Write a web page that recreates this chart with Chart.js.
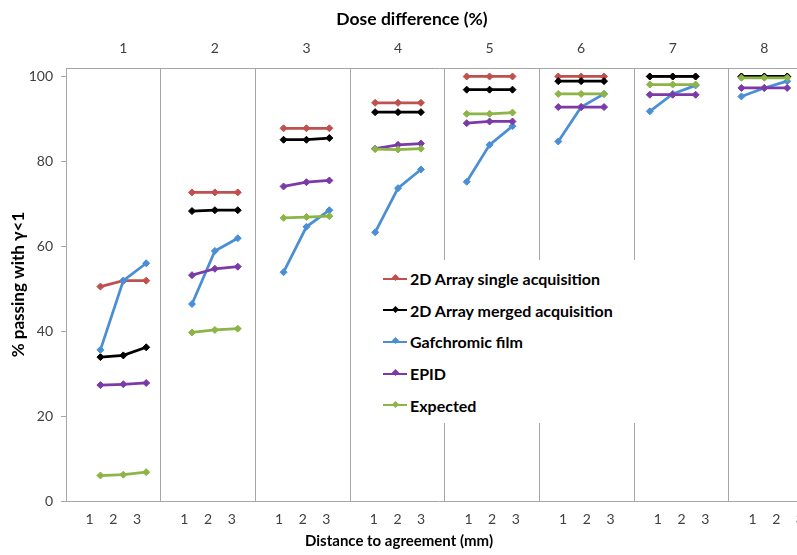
<!DOCTYPE html>
<html>
<head>
<meta charset="utf-8">
<script src="https://cdn.jsdelivr.net/npm/chart.js@4.4.1/dist/chart.umd.min.js"></script>
<style>
  body { margin: 0; background: #fff; }
  #wrap { position: relative; width: 797px; height: 555px; overflow: hidden; }
  #legend {
    position: absolute; left: 365px; top: 260px; width: 272px; height: 163px;
    background: #fff; padding-top: 3px; box-sizing: border-box;
    font-family: Lato, sans-serif; font-weight: bold; font-size: 16px; color: #000;
  }
  .item { height: 31.6px; display: flex; align-items: center; padding-left: 18px; }
  .swatch { position: relative; width: 24px; height: 2px; margin-right: 3px; }
  .swatch i { position: absolute; left: 9.5px; top: -2.5px; width: 5px; height: 5px; transform: rotate(45deg); background: inherit; }
</style>
</head>
<body>
<div id="wrap">
  <!-- the original figure is cropped on the right, so the canvas runs past the window edge -->
  <canvas id="chart" width="812" height="555"></canvas>
  <div id="legend"></div>
</div>
<script>
// Dose difference (%) groups and distance to agreement (mm) inside each group
const doseLevels = [1, 2, 3, 4, 5, 6, 7, 8];
const distances = [1, 2, 3];
const yTicks = [0, 20, 40, 60, 80, 100];

const seriesNames = [
  "2D Array single acquisition",
  "2D Array merged acquisition",
  "Gafchromic film",
  "EPID",
  "Expected"
];
const seriesColors = ["#c0504d", "#000000", "#4a8fd5", "#7b3aa8", "#8db447"];

// one row per dose level, three values per row (DTA 1, 2, 3 mm)
const singleAcq = [
  50.5, 51.9, 51.9,
  72.7, 72.7, 72.7,
  87.8, 87.8, 87.8,
  93.8, 93.8, 93.8,
  100, 100, 100,
  100, 100, 100,
  100, 100, 100,
  100, 100, 100
];
const mergedAcq = [
  33.9, 34.3, 36.2,
  68.3, 68.5, 68.5,
  85.1, 85.1, 85.5,
  91.6, 91.6, 91.6,
  96.9, 96.9, 96.9,
  98.9, 98.9, 98.9,
  100, 100, 100,
  100, 100, 100
];
const film = [
  35.6, 51.9, 56.0,
  46.4, 58.9, 61.9,
  53.9, 64.6, 68.5,
  63.3, 73.7, 78.1,
  75.2, 83.9, 88.3,
  84.7, 92.8, 95.9,
  91.8, 95.9, 97.9,
  95.3, 97.3, 98.9
];
const epid = [
  27.3, 27.5, 27.8,
  53.2, 54.7, 55.2,
  74.1, 75.1, 75.5,
  83.0, 83.9, 84.2,
  89.0, 89.4, 89.4,
  92.8, 92.8, 92.8,
  95.7, 95.7, 95.7,
  97.3, 97.3, 97.3
];
const expected = [
  6.0, 6.2, 6.8,
  39.7, 40.3, 40.6,
  66.7, 66.9, 67.1,
  82.9, 82.8, 83.0,
  91.2, 91.2, 91.5,
  95.9, 95.9, 95.9,
  98.1, 98.1, 98.1,
  99.7, 99.7, 99.7
];
const seriesValues = [singleAcq, mergedAcq, film, epid, expected];

const gray = "#a6a6a6";
const tickColor = "#404040";
const font = "Lato, sans-serif";

// each dose group sits at x = dose, the three DTA points 0.25 apart, null breaks the line between groups
function toPoints(values) {
  const pts = [];
  doseLevels.forEach((dose, g) => {
    distances.forEach((d, j) => pts.push({ x: dose + (d - 2) * 0.25, y: values[g * distances.length + j] }));
    pts.push({ x: dose + 0.5, y: null });
  });
  return pts;
}

const datasets = seriesNames.map((name, i) => ({
  label: name,
  data: toPoints(seriesValues[i]),
  borderColor: seriesColors[i],
  backgroundColor: seriesColors[i],
  borderWidth: 2.75,
  pointStyle: "rectRot",
  pointRadius: 3.5,
  pointBorderWidth: 1,
  spanGaps: false,
  xAxisID: "x",
  yAxisID: "y",
  order: seriesNames.length - i
}));

// bottom axis: 4 slots per dose group, separators on the group edges
const slotsPerGroup = distances.length + 1;

const axisTitles = {
  id: "axisTitles",
  afterDraw(chart) {
    const ctx = chart.ctx;
    const a = chart.chartArea;
    ctx.save();
    ctx.fillStyle = "#000";
    ctx.textAlign = "center";
    ctx.textBaseline = "middle";
    ctx.font = "bold 17.5px " + font;
    ctx.fillText("Dose difference (%)", a.left + 346, 19);
    ctx.font = "bold 15px " + font;
    ctx.fillText("Distance to agreement (mm)", a.left + 333, 541);
    ctx.restore();
  }
};

const noSidePadding = s => { s.paddingLeft = 0; s.paddingRight = 0; };

const chart = new Chart(document.getElementById("chart"), {
  type: "line",
  data: { datasets },
  options: {
    responsive: false,
    animation: false,
    layout: { padding: 0, autoPadding: false },
    plugins: { legend: { display: false }, tooltip: { enabled: false } },
    scales: {
      x: {
        type: "linear",
        position: "top",
        min: 0.374,
        max: 8.521,
        afterBuildTicks: s => { s.ticks = doseLevels.map(v => ({ value: v })); },
        afterFit: s => { s.height = 68; noSidePadding(s); },
        ticks: { color: tickColor, font: { family: font, size: 14 }, padding: 3, maxRotation: 0, autoSkip: false },
        grid: { display: false },
        border: { display: true, color: gray, width: 1 }
      },
      xb: {
        type: "linear",
        position: "bottom",
        min: 0,
        max: 31.51,
        afterBuildTicks: s => {
          const t = [];
          doseLevels.forEach((dose, g) => {
            t.push({ value: g * slotsPerGroup });
            distances.forEach(d => t.push({ value: g * slotsPerGroup + d }));
          });
          s.ticks = t;
        },
        afterFit: s => { s.height = 54; noSidePadding(s); },
        ticks: {
          color: tickColor, font: { family: font, size: 14 }, padding: 10, maxRotation: 0, autoSkip: false,
          callback: v => (v % slotsPerGroup === 0 ? "" : String(distances[(v % slotsPerGroup) - 1]))
        },
        grid: {
          drawTicks: false,
          color: c => (c.tick && c.tick.value % slotsPerGroup === 0 ? gray : "rgba(0,0,0,0)"),
          lineWidth: 1
        },
        border: { display: true, color: gray, width: 1 }
      },
      y: {
        type: "linear",
        position: "left",
        min: 0,
        max: 102,
        afterBuildTicks: s => { s.ticks = yTicks.map(v => ({ value: v })); },
        afterFit: s => { s.width = 66; },
        ticks: { color: tickColor, font: { family: font, size: 14 }, padding: 8 },
        grid: { drawOnChartArea: false, drawTicks: true, tickLength: 5, color: gray },
        border: { display: true, color: gray, width: 1 },
        title: {
          display: true,
          text: "% passing with γ<1",
          color: "#000",
          font: { family: font, size: 17, weight: "bold" },
          padding: { top: 8, bottom: 0 }
        }
      }
    }
  },
  plugins: [axisTitles]
});

// legend box drawn over the plot, as in the original figure
const legend = document.getElementById("legend");
chart.data.datasets.forEach(ds => {
  const row = document.createElement("div");
  row.className = "item";
  const sw = document.createElement("span");
  sw.className = "swatch";
  sw.style.background = ds.borderColor;
  sw.appendChild(document.createElement("i"));
  row.appendChild(sw);
  row.appendChild(document.createTextNode(ds.label));
  legend.appendChild(row);
});
</script>
</body>
</html>
